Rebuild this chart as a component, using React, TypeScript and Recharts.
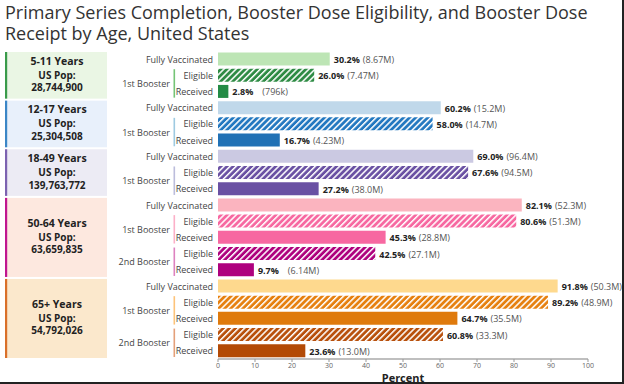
import React from 'react';
import { BarChart, Bar, XAxis, YAxis, Cell, LabelList } from 'recharts';

const ageGroups = ['5-11 Years', '12-17 Years', '18-49 Years', '50-64 Years', '65+ Years'];
const usPop = ['28,744,900', '25,304,508', '139,763,772', '63,659,835', '54,792,026'];

// one entry per bar row, top to bottom
const rowGroup = [0, 0, 0, 1, 1, 1, 2, 2, 2, 3, 3, 3, 3, 3, 4, 4, 4, 4, 4];
const rowMeasure = [
  'Fully Vaccinated', 'Eligible', 'Received',
  'Fully Vaccinated', 'Eligible', 'Received',
  'Fully Vaccinated', 'Eligible', 'Received',
  'Fully Vaccinated', 'Eligible', 'Received', 'Eligible', 'Received',
  'Fully Vaccinated', 'Eligible', 'Received', 'Eligible', 'Received',
];
const rowBooster = [
  '', '1st Booster', '1st Booster',
  '', '1st Booster', '1st Booster',
  '', '1st Booster', '1st Booster',
  '', '1st Booster', '1st Booster', '2nd Booster', '2nd Booster',
  '', '1st Booster', '1st Booster', '2nd Booster', '2nd Booster',
];
const pctValues = [30.2, 26.0, 2.8, 60.2, 58.0, 16.7, 69.0, 67.6, 27.2, 82.1, 80.6, 45.3, 42.5, 9.7, 91.8, 89.2, 64.7, 60.8, 23.6];
const countLabels = ['8.67M', '7.47M', '796k', '15.2M', '14.7M', '4.23M', '96.4M', '94.5M', '38.0M', '52.3M', '51.3M', '28.8M', '27.1M', '6.14M', '50.3M', '48.9M', '35.5M', '33.3M', '13.0M'];
const xTicks = [0, 10, 20, 30, 40, 50, 60, 70, 80, 90, 100];

// colours
const rowColor = [
  '#bde5b5', '#2e8b44', '#238b45',
  '#c0d8ea', '#2378c0', '#2171b5',
  '#cbc9e2', '#6a51a3', '#6a51a3',
  '#fbb4bf', '#f768a1', '#f768a1', '#ae017e', '#ae017e',
  '#fed98e', '#e6800f', '#df7a0c', '#b8500c', '#b34a05',
];
const boxBg = ['#eaf6e4', '#e8f0fb', '#ecebf4', '#fde8df', '#fbe8cc'];
const boxStripe = ['#3a9b4a', '#3b86c6', '#7c62b0', '#c0168f', '#d9702a'];
const boosterLine = [
  '', '#74c476', '#74c476',
  '', '#9ecae1', '#9ecae1',
  '', '#bcbddc', '#bcbddc',
  '', '#fcb0c8', '#fcb0c8', '#dd82c0', '#dd82c0',
  '', '#fdc37a', '#fdc37a', '#e4a07a', '#e4a07a',
];

const W = 624;
const H = 384;
const PLOT_TOP = 51;
const PLOT_BOTTOM = 359;
const ROW_H = (PLOT_BOTTOM - PLOT_TOP) / pctValues.length;
const FONT = '"Open Sans", "Noto Sans", sans-serif';

const isHatched = (i: number) => rowMeasure[i] === 'Eligible';
const hatchId = (i: number) => `hatch-${i}`;

const data = pctValues.map((pct, i) => ({ id: `r${i}`, pct }));

function RowTick(props: any) {
  const { x, y, payload } = props;
  const i = Number(String(payload.value).slice(1));
  const g = rowGroup[i];
  const firstOfGroup = i === 0 || rowGroup[i - 1] !== g;
  const firstOfBooster = rowBooster[i] !== '' && rowBooster[i - 1] !== rowBooster[i];
  let box = null;
  if (firstOfGroup) {
    const n = rowGroup.filter((v) => v === g).length;
    const top = y - ROW_H / 2 + 1;
    const h = n * ROW_H - 2;
    const c = top + h / 2;
    box = (
      <g>
        <rect x={5} y={top} width={102} height={h} fill={boxBg[g]} />
        <rect x={5} y={top} width={2.2} height={h} fill={boxStripe[g]} />
        <text x={57} y={c - 14.5} textAnchor="middle" dominantBaseline="central" fontSize={10.5} fontWeight={700} fill="#222">{ageGroups[g]}</text>
        <text x={57} y={c - 0.5} textAnchor="middle" dominantBaseline="central" fontSize={10} fontWeight={700} fill="#222">US Pop:</text>
        <text x={57} y={c + 12} textAnchor="middle" dominantBaseline="central" fontSize={10} fontWeight={700} fill="#222">{usPop[g]}</text>
      </g>
    );
  }
  let booster = null;
  if (firstOfBooster) {
    booster = (
      <g>
        <text x={x - 43} y={y + ROW_H / 2} textAnchor="end" dominantBaseline="central" fontSize={9} fill="#444">{rowBooster[i]}</text>
        <rect x={x - 39.5} y={y - ROW_H / 2 + 2} width={1.6} height={2 * ROW_H - 4} fill={boosterLine[i]} />
      </g>
    );
  }
  return (
    <g>
      {box}
      {booster}
      <text x={x} y={y} textAnchor="end" dominantBaseline="central" fontSize={9} fill="#444">{rowMeasure[i]}</text>
    </g>
  );
}

function ValueLabel(props: any) {
  const { x, y, width, height, index } = props;
  const pct = pctValues[index];
  return (
    <text x={x + width + 4} y={y + height / 2} dominantBaseline="central" fontSize={9}>
      <tspan fontWeight={700} fill="#222">{pct.toFixed(1)}%</tspan>
      <tspan fill="#555" dx={pct < 10 ? 9 : 3}>({countLabels[index]})</tspan>
    </text>
  );
}

export default function App() {
  return (
    <div style={{ position: 'absolute', left: 0, top: 0, width: W, height: H, background: '#fff', fontFamily: FONT, overflow: 'hidden' }}>
      <svg width={0} height={0} style={{ position: 'absolute' }}>
        <defs>
          {rowColor.map((c, i) =>
            isHatched(i) ? (
              <pattern key={i} id={hatchId(i)} width={4.3} height={4.3} patternUnits="userSpaceOnUse" patternTransform="rotate(45)">
                <rect width={4.3} height={4.3} fill={c} />
                <rect width={1.5} height={4.3} fill="#fff" />
              </pattern>
            ) : null,
          )}
        </defs>
      </svg>
      <div style={{ position: 'absolute', left: 5, top: 2, fontSize: 18, lineHeight: '21px', color: '#333', whiteSpace: 'nowrap' }}>
        <div>Primary Series Completion, Booster Dose Eligibility, and Booster Dose</div>
        <div>Receipt by Age, United States</div>
      </div>
      <div style={{ position: 'absolute', left: 0, top: 0 }}>
        <BarChart
          width={W}
          height={H}
          data={data}
          layout="vertical"
          margin={{ top: PLOT_TOP, right: 36, bottom: 0, left: 0 }}
          barCategoryGap={1.5}
          style={{ fontFamily: FONT }}
        >
          <XAxis
            type="number"
            domain={[0, 100]}
            ticks={xTicks}
            height={H - PLOT_BOTTOM}
            tick={{ fontSize: 7, fill: '#666' }}
            tickSize={3}
            tickMargin={1}
            tickLine={{ stroke: '#999' }}
            axisLine={{ stroke: '#aaa', strokeWidth: 1.5 }}
            label={{ value: 'Percent', position: 'insideBottom', offset: 2, fontSize: 11, fontWeight: 700, fill: '#222' }}
          />
          <YAxis
            type="category"
            dataKey="id"
            width={218}
            tickSize={0}
            tickMargin={5}
            axisLine={false}
            tickLine={false}
            interval={0}
            tick={(p: any) => <RowTick {...p} />}
          />
          <Bar dataKey="pct" isAnimationActive={false}>
            {data.map((d, i) => (
              <Cell key={d.id} fill={isHatched(i) ? `url(#${hatchId(i)})` : rowColor[i]} />
            ))}
            <LabelList dataKey="pct" content={(p: any) => <ValueLabel {...p} />} />
          </Bar>
        </BarChart>
      </div>
      <div style={{ position: 'absolute', right: 0, top: 0, width: 2, height: H, background: '#222' }} />
      <div style={{ position: 'absolute', left: 0, bottom: 0, width: W, height: 2, background: '#222' }} />
    </div>
  );
}
